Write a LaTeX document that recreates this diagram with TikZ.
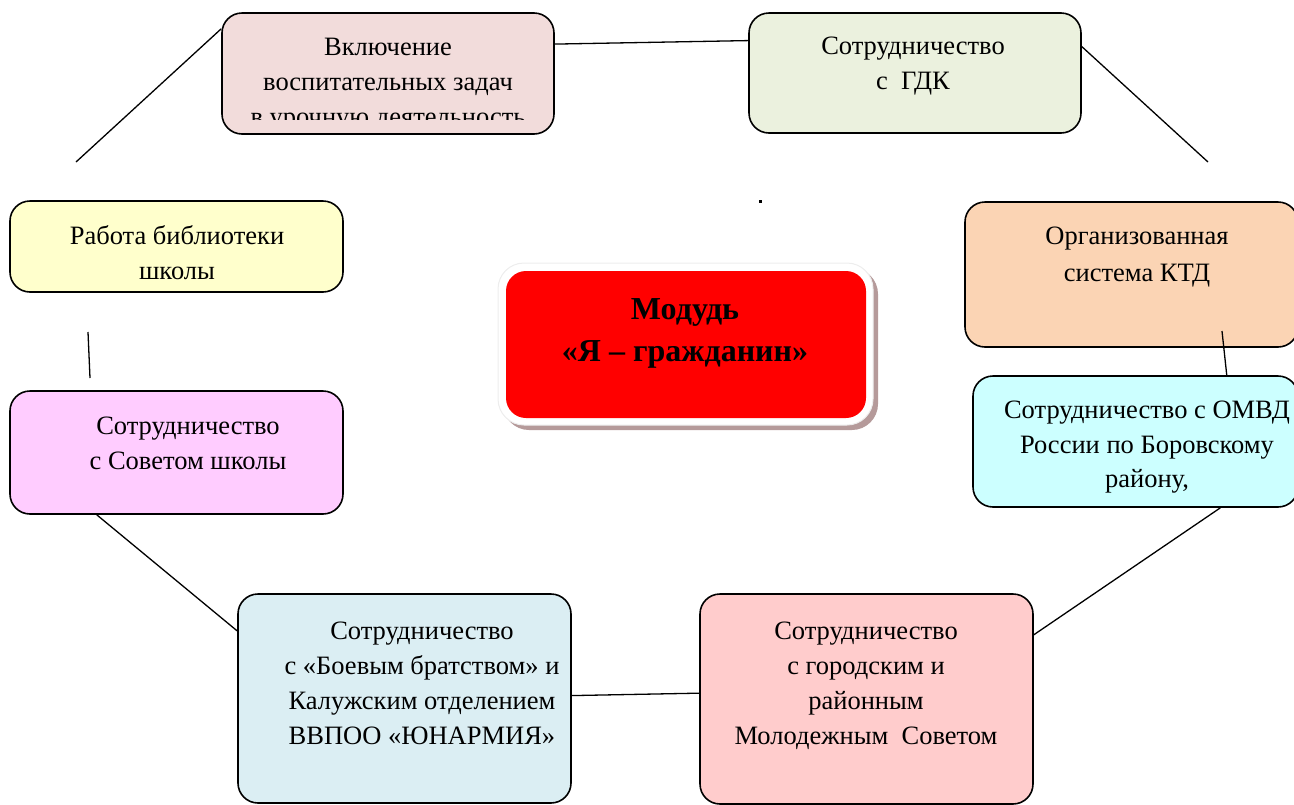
\documentclass[tikz,border=0pt]{standalone}
\usepackage{fontspec}
\setmainfont{Liberation Serif}
\begin{document}
\begin{tikzpicture}[x=1pt,y=-1pt,
  box/.style={draw=black, line width=1.6pt, rounded corners=20pt, inner sep=0pt, minimum width=#1},
  lbl/.style={anchor=north, align=center, inner sep=0pt, font=\fontsize{26.5}{35}\selectfont},
  conn/.style={draw=black, line width=1.3pt}]
\useasboundingbox (0,0) rectangle (1294,804);
\clip (0,0) rectangle (1294,804);
\definecolor{c1}{HTML}{F2DCDB}
\definecolor{c2}{HTML}{EBF1DE}
\definecolor{c3}{HTML}{FFFFCC}
\definecolor{c4}{HTML}{FBD4B4}
\definecolor{c5}{HTML}{CCFFFF}
\definecolor{c6}{HTML}{FFCCFF}
\definecolor{c7}{HTML}{DBEEF3}
\definecolor{c8}{HTML}{FFCCCC}
\definecolor{shadowc}{HTML}{B59A9A}
\definecolor{framec}{HTML}{EDEDED}

% boxes
\node[box=332pt, fill=c1, minimum height=121pt] (b1) at (388,73.5) {};
\node[box=332pt, fill=c2, minimum height=120pt] (b2) at (915,73) {};
\node[box=333pt, fill=c3, minimum height=91pt] (b3) at (176.5,246.5) {};
\node[box=333pt, fill=c4, minimum height=145pt] (b4) at (1131.5,274.5) {};
\node[box=325pt, fill=c5, minimum height=131pt] (b5) at (1135.5,441.5) {};
\node[box=333pt, fill=c6, minimum height=123pt] (b6) at (176.5,452.5) {};
\node[box=333pt, fill=c7, minimum height=209pt] (b7) at (404.5,698.5) {};
\node[box=333pt, fill=c8, minimum height=210pt] (b8) at (866.5,699) {};

% central module
\fill[shadowc, rounded corners=26pt] (503,268) rectangle (878,430);
\node[draw=framec, line width=1pt, fill=white, rounded corners=26pt, minimum width=375pt, minimum height=162pt, inner sep=0pt] (cf) at (685.5,344) {};
\node[fill=red, rounded corners=20pt, minimum width=360pt, minimum height=147pt, inner sep=0pt] (c) at (686,344.5) {};
\node[anchor=north, align=center, inner sep=0pt, font=\fontsize{32}{42.5}\selectfont\bfseries] (ct) at (685,298) {Модудь\\«Я – гражданин»};

% texts
\begin{scope}
\clip (222,13) rectangle (554,119);
\node[lbl] (t1) at (388,38) {Включение\\воспитательных задач\\в урочную деятельность};
\end{scope}
\node[lbl] (t2) at (913,37) {Сотрудничество\\с~ ГДК};
\node[lbl] (t3) at (177,225) {Работа библиотеки\\школы};
\node[lbl, font=\fontsize{26.5}{37}\selectfont] (t4) at (1137,227) {Организованная\\система КТД};
\node[lbl, font=\fontsize{26.5}{34.5}\selectfont] (t5) at (1147,401) {Сотрудничество с ОМВД\\России по Боровскому\\району,};
\node[lbl] (t6) at (188,417) {Сотрудничество\\с Советом школы};
\node[lbl] (t7) at (422,622) {Сотрудничество\\с «Боевым братством» и\\Калужским отделением\\ВВПОО «ЮНАРМИЯ»};
\node[lbl] (t8) at (866,622) {Сотрудничество\\с городским и\\районным\\Молодежным~ Советом};

% free ends
\coordinate (f1) at (76,162);
\coordinate (f2) at (1208,162);
\coordinate (f3) at (1222,331);
\coordinate (f4) at (88,332);
\coordinate (f5) at (90,378);

% connectors
\draw[conn] (f1) -- (b1.165.3);
\draw[conn] (b1.10.1) -- (b2.169.4);
\draw[conn] (b2.9.9) -- (f2);
\draw[conn] (f3) -- (b5.36);
\draw[conn] (f4) -- (f5);
\draw[conn] (b6.218.8) -- (b7.158.2);
\draw[conn] (b7.1.9) -- (b8.178);
\draw[conn] (b8.21.9) -- (b5.322.2);

% stray dot
\fill[black] (759,200) rectangle (762,202.5);
\end{tikzpicture}
\end{document}
